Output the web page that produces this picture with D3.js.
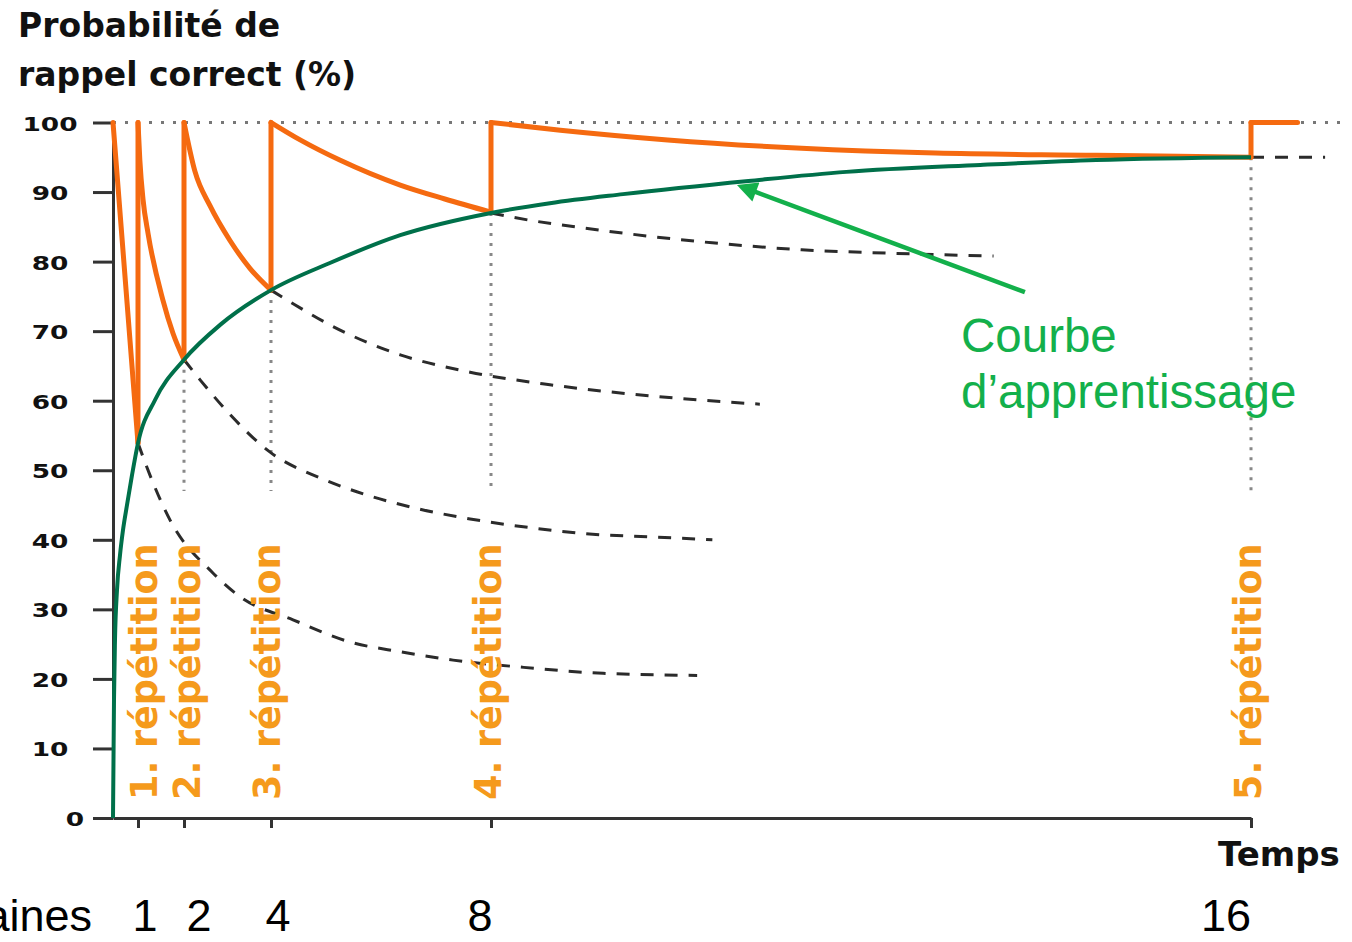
<!DOCTYPE html>
<html>
<head>
<meta charset="utf-8">
<script src="https://cdn.jsdelivr.net/npm/d3@7"></script>
<style>
  html, body { margin: 0; padding: 0; background: #fff; }
  svg { display: block; }
</style>
</head>
<body>
<svg id="chart" width="1352" height="942"></svg>
<script>
// ---------- DATA ----------
const yTickValues = [0, 10, 20, 30, 40, 50, 60, 70, 80, 90, 100];
const weekTicks = [1, 2, 4, 8, 16];
const weekTickLabels = ["1", "2", "4", "8", "16"];
const repetitionWeeks = [1, 2, 4, 8, 16];
const repetitionLabels = ["1. répétition", "2. répétition", "3. répétition", "4. répétition", "5. répétition"];

// learning curve [week, %]
const learningCurve = [
  [0, 0], [0.04, 17], [0.08, 25.6], [0.16, 32.8], [0.28, 37.8], [0.4, 41.4],
  [0.56, 45], [0.76, 49.3], [1, 53.9], [1.37, 60.1], [2, 65.9], [2.83, 70.9],
  [4, 75.9], [5.07, 79.8], [6.35, 83.8], [8, 87], [8.62, 88.4], [9.39, 89.7],
  [10.71, 91.6], [11.74, 92.9], [13.15, 93.9], [14.37, 94.6], [16, 95]
];

// retention after each repetition (orange), [week, %]
const retention0 = [[0, 100], [1, 53.9]];
const retention1 = [[1, 100], [1.04, 94.6], [1.11, 88.9], [1.22, 84], [1.54, 74.5], [1.76, 69.7], [2, 65.9]];
const retention2 = [[2, 100], [2.25, 93], [2.6, 88], [3.06, 83], [3.52, 79], [4, 75.9]];
const retention3 = [[4, 100], [4.53, 97.5], [5.25, 94.6], [6.35, 91], [7.16, 89], [8, 87.1]];
const retention4 = [[8, 100], [8.73, 98.9], [9.86, 97.5], [11.27, 96.3], [12.68, 95.6], [14.37, 95.3], [16, 95]];
const retention5 = [[16, 100], [16.49, 100]];

// forgetting curves without repetition (dashed), [week, %]
const forget1 = [[1, 53.9], [1.26, 49.3], [1.7, 42.8], [2.67, 35.2], [3.29, 31.8], [4.4, 28.5],
  [5.44, 25.3], [6.35, 23.9], [7.31, 22.7], [8.31, 21.7], [9.18, 20.8], [10.17, 20.5]];
const forget2 = [[2, 65.9], [2.37, 63], [3.06, 58], [3.98, 52.6], [4.89, 48.9], [5.8, 46.3],
  [6.71, 44.4], [7.62, 43], [8.44, 41.7], [9.07, 40.8], [9.71, 40.4], [10.33, 40]];
const forget3 = [[4, 75.9], [4.35, 74.2], [5.07, 70.9], [6.35, 66.6], [7.62, 64.1], [8.62, 62.3],
  [9.67, 60.7], [10.83, 59.5]];
const forget4 = [[8, 87], [8.22, 86.4], [9.16, 84.5], [10.33, 82.7], [11.27, 81.7], [12.21, 81.2], [13.29, 80.8]];
const forget5 = [[16, 95], [16.78, 95]];

const guideBottom = 47;          // % where the vertical dotted guides end
const arrowTail = [13.62, 75.6]; // annotation arrow [week, %]
const arrowTip = [10.63, 90.8];

// ---------- SCALES ----------
const svg = d3.select("#chart");
const x = d3.scaleLinear().domain([0, 1, 2, 4, 8, 16]).range([113, 138, 184, 271, 491, 1251]);
const y = d3.scaleLinear().domain([0, 100]).range([818, 122.5]);
const bottomLabelX = d3.scaleLinear().domain([1, 2, 4, 8, 16]).range([145, 199, 278, 480, 1226]);
const repLabelX = d3.scaleLinear().domain([1, 2, 4, 8, 16]).range([157, 200, 280, 501, 1261]);

const ORANGE = "#f56a10";
const ORANGE_TXT = "#f59a1c";
const DKGREEN = "#00704a";
const GREEN = "#13b04b";
const AXIS = "#333";

const line = d3.line().x(d => x(d[0])).y(d => y(d[1])).curve(d3.curveMonotoneX);

// ---------- TITLE ----------
const title = svg.append("text")
  .attr("font-family", "DejaVu Sans").attr("font-weight", "bold").attr("font-size", 33).attr("fill", "#111");
title.append("tspan").attr("x", 18).attr("y", 37).text("Probabilité de");
title.append("tspan").attr("x", 18).attr("y", 86).text("rappel correct (%)");

// ---------- GUIDES ----------
svg.append("line")
  .attr("x1", x(0)).attr("x2", 1345).attr("y1", y(100)).attr("y2", y(100))
  .attr("stroke", "#777").attr("stroke-width", 3).attr("stroke-dasharray", "3,9");

const guideWeeks = repetitionWeeks.slice(1);
svg.selectAll(".vguide").data(guideWeeks).enter().append("line")
  .attr("x1", d => x(d)).attr("x2", d => x(d))
  .attr("y1", d => y(learningCurve.find(p => p[0] === d)[1]))
  .attr("y2", y(guideBottom))
  .attr("stroke", "#888").attr("stroke-width", 3).attr("stroke-dasharray", "3,7");

// ---------- AXES ----------
const yAxis = svg.append("g").attr("transform", `translate(${x(0)},0)`)
  .call(d3.axisLeft(y).tickValues(yTickValues).tickSize(20).tickSizeOuter(0).tickFormat(d3.format("d")));
yAxis.select(".domain").attr("stroke", AXIS).attr("stroke-width", 3);
yAxis.selectAll(".tick line").attr("stroke", AXIS).attr("stroke-width", 3);
yAxis.selectAll(".tick text")
  .attr("x", 0).attr("dy", 0)
  .attr("transform", d => `translate(${d === 0 ? -38 : -63},7.5) scale(1.32,1)`)
  .attr("text-anchor", "middle")
  .attr("font-family", "DejaVu Sans").attr("font-weight", "bold").attr("font-size", 20)
  .attr("fill", "#111");

const xAxis = svg.append("g").attr("transform", `translate(0,${y(0)})`)
  .call(d3.axisBottom(x).tickValues(weekTicks).tickSize(10).tickSizeOuter(0).tickFormat(""));
xAxis.select(".domain").attr("stroke", AXIS).attr("stroke-width", 3);
xAxis.selectAll(".tick line").attr("stroke", AXIS).attr("stroke-width", 3);

// ---------- DASHED FORGETTING CURVES ----------
[forget1, forget2, forget3, forget4, forget5].forEach(f => {
  svg.append("path").attr("d", line(f))
    .attr("fill", "none").attr("stroke", "#2b2b2b").attr("stroke-width", 3)
    .attr("stroke-dasharray", "13,11");
});

// ---------- ORANGE RETENTION ----------
const segs = [retention0, retention1, retention2, retention3, retention4, retention5];
segs.forEach((s, i) => {
  svg.append("path").attr("d", line(s))
    .attr("fill", "none").attr("stroke", ORANGE).attr("stroke-width", 5)
    .attr("stroke-linecap", "round").attr("stroke-linejoin", "round");
  if (i > 0) {
    const prev = segs[i - 1];
    const end = prev[prev.length - 1];
    svg.append("line")
      .attr("x1", x(end[0])).attr("x2", x(s[0][0]))
      .attr("y1", y(end[1])).attr("y2", y(s[0][1]))
      .attr("stroke", ORANGE).attr("stroke-width", 5).attr("stroke-linecap", "round");
  }
});

// ---------- LEARNING CURVE ----------
svg.append("path").attr("d", line(learningCurve))
  .attr("fill", "none").attr("stroke", DKGREEN).attr("stroke-width", 4);

// ---------- REPETITION LABELS ----------
svg.selectAll(".replabel").data(repetitionWeeks).enter().append("text")
  .attr("transform", d => `translate(${repLabelX(d)},800) rotate(-90)`)
  .attr("font-family", "DejaVu Sans").attr("font-weight", "bold").attr("font-size", 36.5)
  .attr("fill", ORANGE_TXT)
  .text((d, i) => repetitionLabels[i]);

// ---------- ANNOTATION ----------
const defs = svg.append("defs");
defs.append("marker").attr("id", "ah").attr("viewBox", "0 0 10 10")
  .attr("refX", 2).attr("refY", 5).attr("markerWidth", 5).attr("markerHeight", 4.5)
  .attr("orient", "auto")
  .append("path").attr("d", "M0,0 L10,5 L0,10 z").attr("fill", GREEN);
const tx = x(arrowTip[0]), ty = y(arrowTip[1]);
const sx = x(arrowTail[0]), sy = y(arrowTail[1]);
const ang = Math.atan2(ty - sy, tx - sx);
svg.append("line")
  .attr("x1", sx).attr("y1", sy)
  .attr("x2", tx - 12 * Math.cos(ang)).attr("y2", ty - 12 * Math.sin(ang))
  .attr("stroke", GREEN).attr("stroke-width", 4.5)
  .attr("marker-end", "url(#ah)");

const note = svg.append("text")
  .attr("font-family", "Liberation Sans, Arial, sans-serif").attr("font-size", 47.5).attr("fill", GREEN);
note.append("tspan").attr("x", 961).attr("y", 352).text("Courbe");
note.append("tspan").attr("x", 961).attr("y", 408).text("d’apprentissage");

// ---------- AXIS TITLES ----------
svg.append("text").attr("x", 1218).attr("y", 866)
  .attr("font-family", "DejaVu Sans").attr("font-weight", "bold").attr("font-size", 34).attr("fill", "#111")
  .text("Temps");

svg.append("text").attr("x", 92).attr("y", 931).attr("text-anchor", "end")
  .attr("font-family", "Liberation Sans, Arial, sans-serif").attr("font-size", 45).attr("fill", "#000")
  .text("Semaines");

svg.selectAll(".wk").data(weekTicks).enter().append("text")
  .attr("x", d => bottomLabelX(d)).attr("y", 931).attr("text-anchor", "middle")
  .attr("font-family", "Liberation Sans, Arial, sans-serif").attr("font-size", 45).attr("fill", "#000")
  .text((d, i) => weekTickLabels[i]);
</script>
</body>
</html>
